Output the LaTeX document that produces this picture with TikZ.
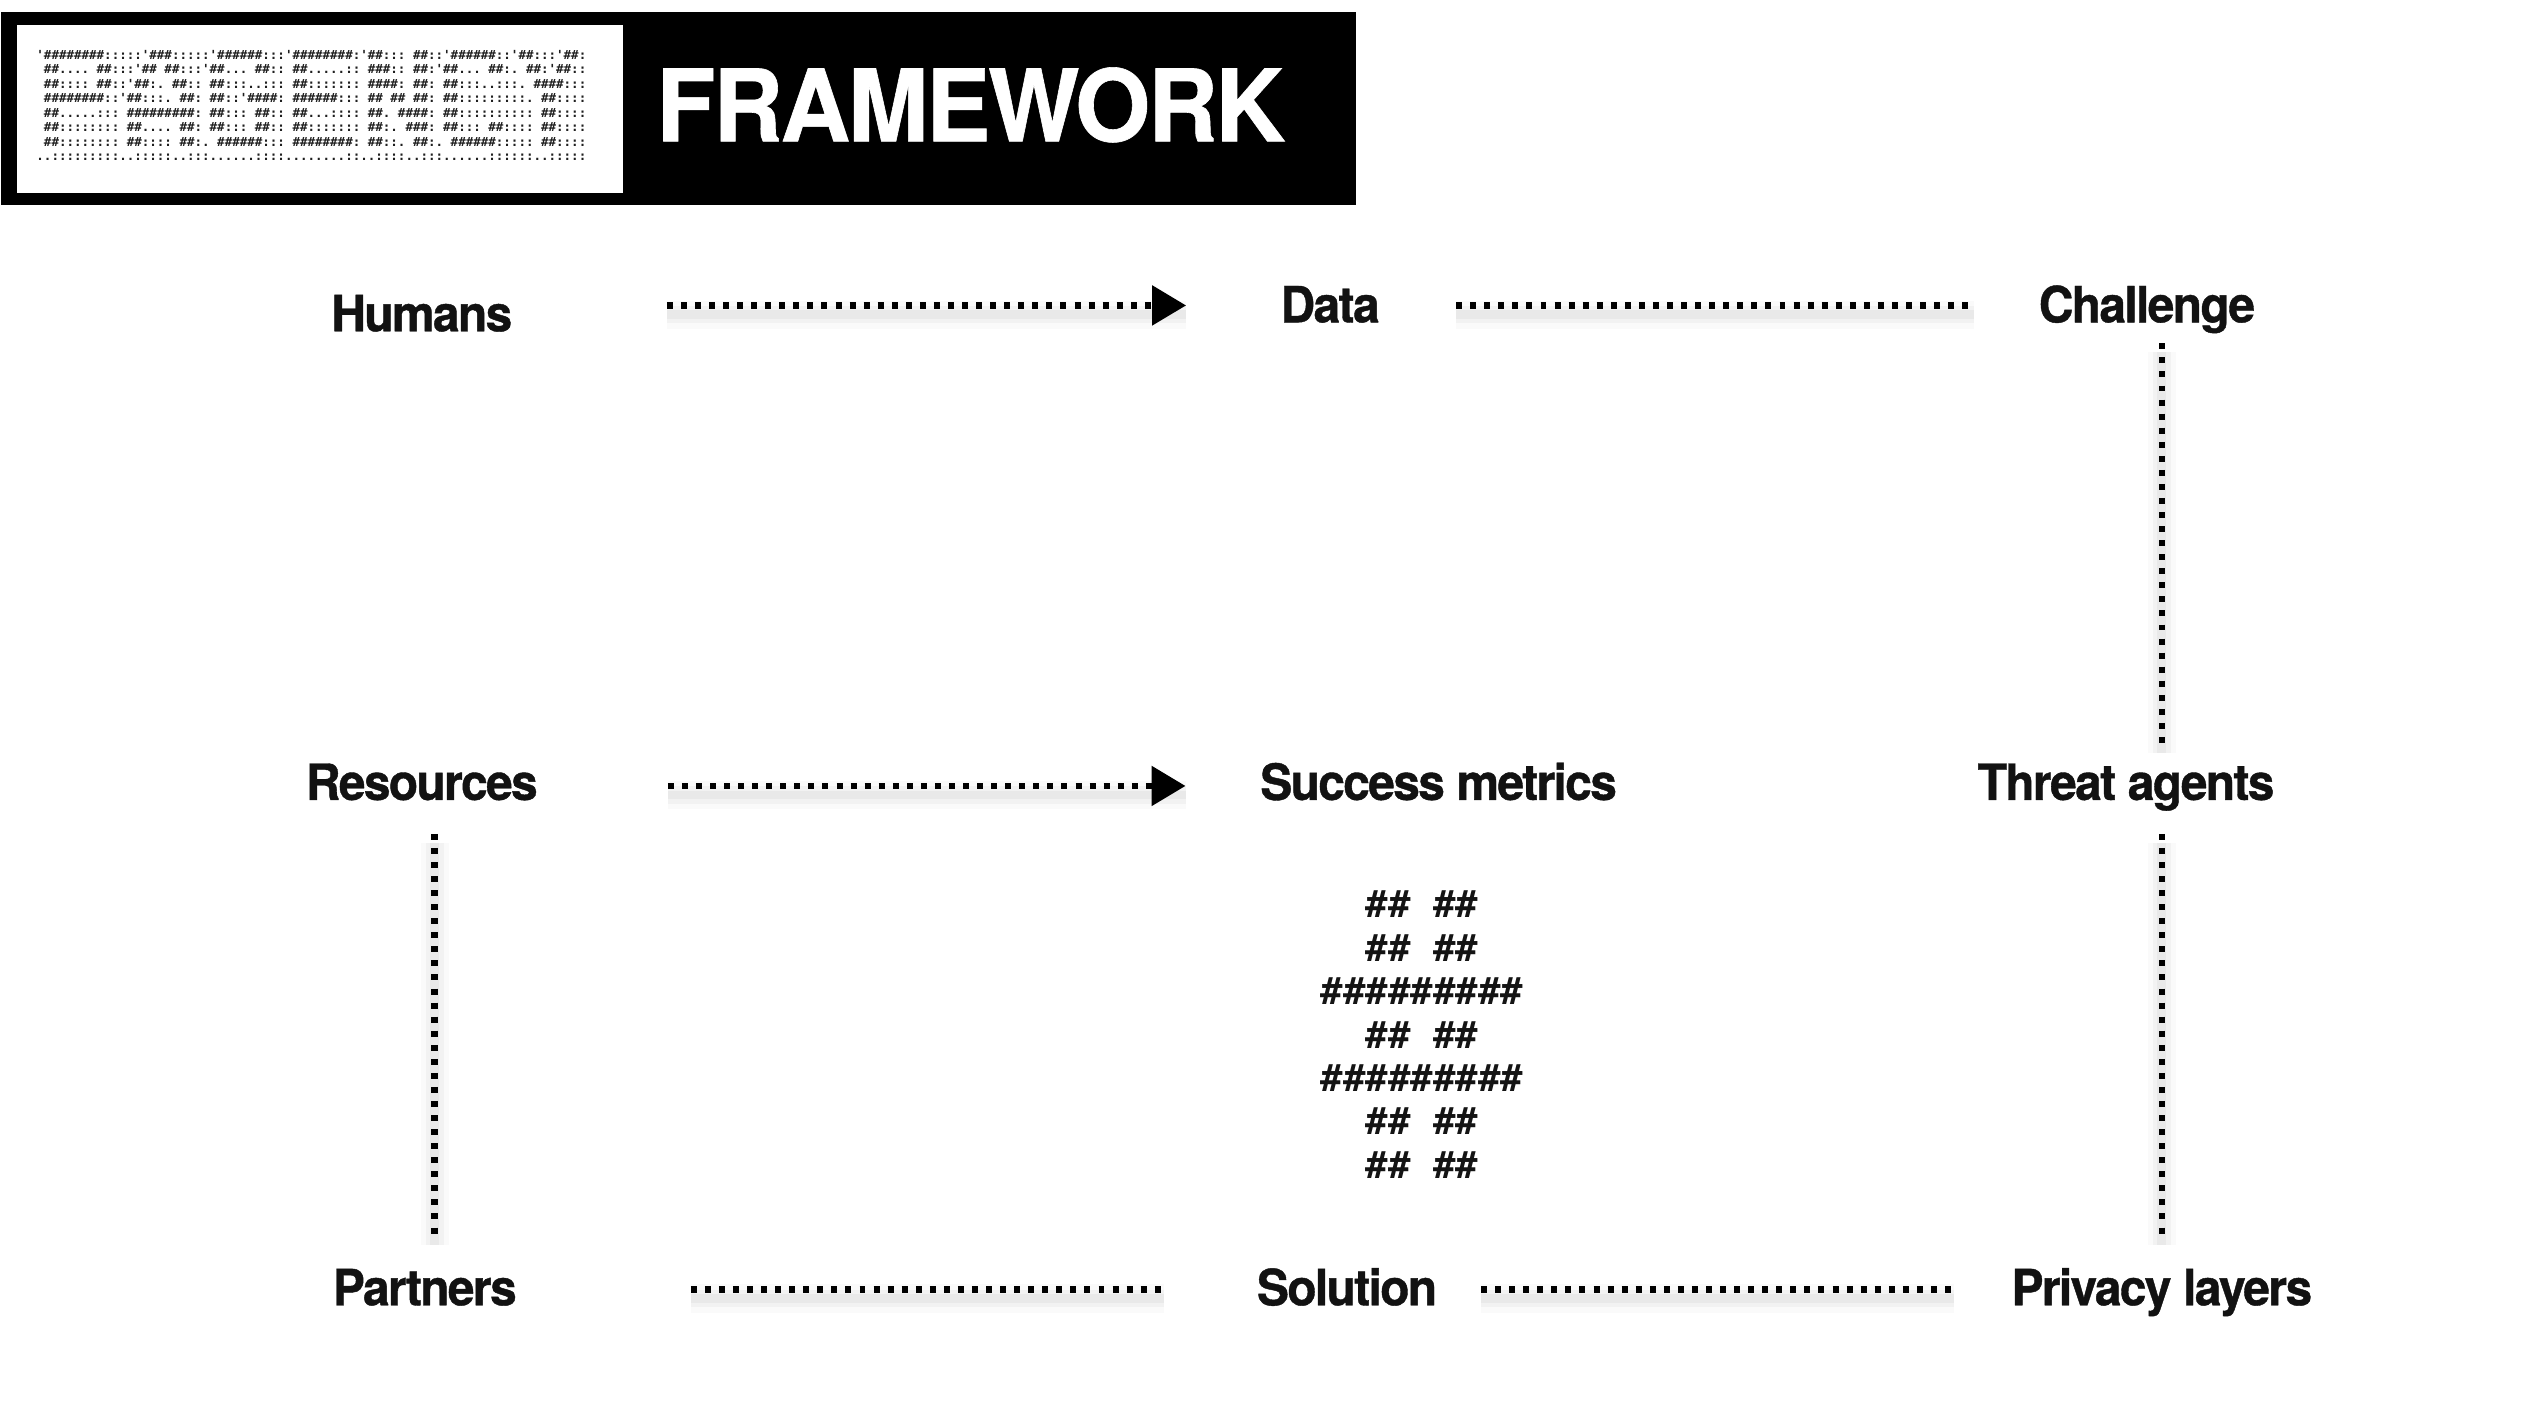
\documentclass[tikz,border=0pt]{standalone}
\usepackage{fontspec}
\usetikzlibrary{arrows.meta,calc}
\setmainfont{TeX Gyre Heros}
\newfontfamily\lblfont[FakeStretch=0.96,LetterSpace=-3.3,FakeBold=0.8]{TeX Gyre Heros}
\newfontfamily\ttlfont[FakeStretch=0.97,LetterSpace=-2.5,FakeBold=0.6]{TeX Gyre Heros}
\newfontfamily\monofnt{DejaVu Sans Mono}
\newcommand\myq{\textquotesingle}
\newcommand\lnk[5][]{%
  \draw[shadA,shorten <=#4,shorten >=#5] #2 -- #3;
  \draw[shadB,shorten <=#4,shorten >=#5] #2 -- #3;
  \draw[shadC,shorten <=#4,shorten >=#5] #2 -- #3;
  \draw[conn,shorten <=#4,shorten >=#5,#1] #2 -- #3;}
\begin{document}
\begin{tikzpicture}[x=0.00995cm,y=-0.00995cm,
  lbl/.style={font=\lblfont\bfseries\fontsize{14.2}{17}\selectfont, text=black!93, inner sep=0pt, anchor=base},
  conn/.style={line width=1.9pt, dash pattern=on 1.7pt off 2.3pt, black},
  shadA/.style={line width=2.5pt, black, opacity=0.035, transform canvas={yshift=-2.6pt}},
  shadB/.style={line width=5pt, black, opacity=0.03, transform canvas={yshift=-2.6pt}},
  shadC/.style={line width=8pt, black, opacity=0.02, transform canvas={yshift=-2.6pt}},
  arr/.style={-{Triangle[length=9.7pt,width=11pt]}},
]
\useasboundingbox (0cm,0cm) rectangle (25.24cm,-14cm);
\fill[white] (0cm,0cm) rectangle (25.24cm,-14cm);

% banner
\node[fill=black, minimum width=13.55cm, minimum height=1.93cm, inner sep=0pt, anchor=north west] (banner) at (0,11) {};
\node[fill=white, minimum width=6.06cm, minimum height=1.68cm, inner sep=0pt, anchor=north west] (box) at (16,24) {};
\node[font=\monofnt\bfseries\fontsize{3.56}{4.13}\selectfont, align=left, inner sep=0pt, text=black!88] (ascii) at (313,106) {%
\myq\#\#\#\#\#\#\#\#:::::\myq\#\#\#:::::\myq\#\#\#\#\#\#:::\myq\#\#\#\#\#\#\#\#:\myq\#\#:::\ \#\#::\myq\#\#\#\#\#\#::\myq\#\#:::\myq\#\#:\\
\ \#\#....\ \#\#:::\myq\#\#\ \#\#:::\myq\#\#...\ \#\#::\ \#\#.....::\ \#\#\#::\ \#\#:\myq\#\#...\ \#\#:.\ \#\#:\myq\#\#::\\
\ \#\#::::\ \#\#::\myq\#\#:.\ \#\#::\ \#\#:::..:::\ \#\#:::::::\ \#\#\#\#:\ \#\#:\ \#\#:::..:::.\ \#\#\#\#:::\\
\ \#\#\#\#\#\#\#\#::\myq\#\#:::.\ \#\#:\ \#\#::\myq\#\#\#\#:\ \#\#\#\#\#\#:::\ \#\#\ \#\#\ \#\#:\ \#\#:::::::::.\ \#\#::::\\
\ \#\#.....:::\ \#\#\#\#\#\#\#\#\#:\ \#\#:::\ \#\#::\ \#\#...::::\ \#\#.\ \#\#\#\#:\ \#\#::::::::::\ \#\#::::\\
\ \#\#::::::::\ \#\#....\ \#\#:\ \#\#:::\ \#\#::\ \#\#:::::::\ \#\#:.\ \#\#\#:\ \#\#:::\ \#\#::::\ \#\#::::\\
\ \#\#::::::::\ \#\#::::\ \#\#:.\ \#\#\#\#\#\#:::\ \#\#\#\#\#\#\#\#:\ \#\#::.\ \#\#:.\ \#\#\#\#\#\#:::::\ \#\#::::\\
..:::::::::..:::::..:::......::::........::..::::..:::......::::::..:::::};
\node[font=\ttlfont\bfseries\fontsize{28.4}{30}\selectfont, text=white, inner sep=0pt, anchor=base west] (title) at (659,142) {FRAMEWORK};

% labels
\node[lbl] (hum)  at (424,333)  {Humans};
\node[lbl] (data) at (1337,324) {Data};
\node[lbl] (chal) at (2158,324) {Challenge};
\node[lbl] (res)  at (424,804)  {Resources};
\node[lbl] (succ) at (1446,804) {Success metrics};
\node[lbl] (thr)  at (2137,804) {Threat agents};
\node[lbl] (par)  at (427,1312) {Partners};
\node[lbl] (sol)  at (1354,1312) {Solution};
\node[lbl] (pri)  at (2173,1312) {Privacy layers};

% hash mark
\node[font=\monofnt\bfseries\fontsize{10.62}{12.34}\selectfont, align=left, inner sep=0pt, anchor=west, text=black!92] (hash) at (1327,1040) {%
\ \ \#\#\ \#\#\\
\ \ \#\#\ \#\#\\
\#\#\#\#\#\#\#\#\#\\
\ \ \#\#\ \#\#\\
\#\#\#\#\#\#\#\#\#\\
\ \ \#\#\ \#\#\\
\ \ \#\#\ \#\#};

% row / column guides
\coordinate (r1) at (0,307);
\coordinate (r2) at (0,790);
\coordinate (r3) at (0,1296);
\coordinate (cL) at (437,0);
\coordinate (cR) at (2173,0);

% connectors
\lnk[arr]{(hum |- r1)}{(data |- r1)}{2.45cm}{1.44cm}
\lnk{(data |- r1)}{(chal |- r1)}{1.26cm}{1.73cm}
\lnk[arr]{(res |- r2)}{(succ |- r2)}{2.46cm}{2.53cm}
\lnk{(par |- r3)}{(sol |- r3)}{2.66cm}{1.83cm}
\lnk{(sol |- r3)}{(pri |- r3)}{1.34cm}{2.08cm}
\lnk{(cR |- chal.base)}{(cR |- thr.base)}{0.21cm}{0.56cm}
\lnk{(cR |- thr.base)}{(cR |- pri.base)}{0.34cm}{0.69cm}
\lnk{(cL |- res.base)}{(cL |- par.base)}{0.34cm}{0.69cm}
\end{tikzpicture}
\end{document}
